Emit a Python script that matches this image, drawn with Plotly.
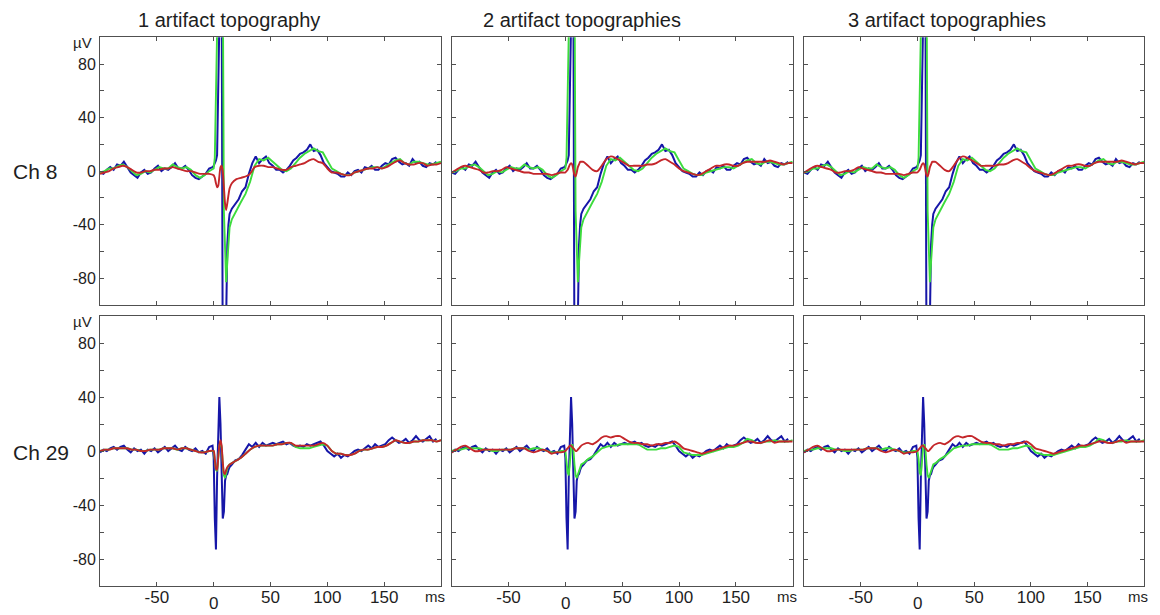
import numpy as np
import plotly.graph_objects as go

# ---------------- time grids (ms) ----------------
# raw (noisy) traces: 3 ms steps, 1 ms steps around the stimulus artifact
t_raw = np.r_[np.arange(-100, 0, 3), np.arange(0, 15, 1), np.arange(16, 201, 3)]
# smoother traces: 4 ms steps, 1 ms steps around the artifact
t_smooth = np.r_[np.arange(-100, 0, 4), np.arange(0, 15, 1), np.arange(16, 201, 4)]

# ---------------- data (µV) ----------------
# Channel 8
ch8_blue = ([-1, -2, 1, 3, 1, 5, 4, 7, 3, -1, -3, -5, -1, 1, -2, -1, 2, 4, 0, 2,
             1, 3, 6, 2, 2, 4, 1, -3, -5, -6, -4, -2, 2]
            + [3, 4, 6, 8, 12, 60, 160, 160, 150, -150, -160, -150, -110, -55, -40]
            + [-32, -28, -24, -21, -15, -12, -2, 6, 11, 6, 9, 11, 6, 4, 1, 1, -1, 1, 4, 8,
               10, 13, 14, 16, 20, 15, 16, 12, 6, 3, 0, -1, -2, -4, -4, -1, -3, 0, 1, -1,
               3, 2, 4, 1, 1, 4, 6, 5, 9, 10, 7, 5, 6, 4, 9, 6, 7, 4, 3, 6, 5, 7])
ch8_green = ([-1, 0, 2, 2, 4, 5, 3, 0, -3, -2, 0, -1, 1, 3, 2, 2, 5, 3, 2, 3, 1, -3, -5, -3, 0]
             + [2, 10, 130, 150, 150, 150, 150, 150, 150, -30, -55, -83, -68, -50, -42]
             + [-36, -29, -23, -17, -8, 4, 9, 8, 10, 7, 4, 1, 0, 2, 6, 10, 13, 15, 17, 15,
                14, 8, 2, 0, -2, -3, -3, -1, 0, 1, 2, 3, 3, 2, 4, 6, 8, 9, 6, 5,
                7, 7, 6, 5, 5, 6, 7])
ch8_red_1 = ([-2, -1, 0, 2, 3, 4, 3, 1, -1, -1, 0, 0, 1, 1, 2, 2, 3, 2, 1, 0, 0, -1, -2, -2, -2]
             + [-3, -5, -9, -12, -11, -4, 3, 4, 0, -12, -24, -29, -24, -18, -13]
             + [-9, -6, -5, -4, -2, 3, 4, 4, 3, 3, 2, 1, 1, 3, 4, 5, 6, 8, 9, 7,
                6, 2, -1, -1, -2, -3, -3, -1, 0, 1, 2, 2, 3, 2, 3, 5, 7, 8, 6, 5,
                5, 6, 6, 4, 5, 5, 6])
ch8_red_23 = ([-1, 1, 3, 4, 3, 2, 1, -1, -1, 0, 0, 1, 3, 2, 1, 0, -1, -1, -2, -2, -2, -2, -3, -2, -1]
              + [-1, 0, 1, 3, 5, 6, 5, 1, -3, -4, -1, 3, 5, 7, 7]
              + [7, 4, 1, 0, 4, 9, 11, 10, 8, 6, 4, 4, 4, 4, 5, 5, 6, 8, 9, 7,
                 5, 2, 0, -1, -2, -3, -2, 0, 2, 4, 4, 5, 5, 4, 4, 6, 7, 7, 7, 7,
                 7, 8, 7, 6, 5, 6, 6])

# Channel 29
ch29_blue = ([-1, 1, 0, 2, 3, 1, 3, 4, 1, -1, 2, 0, 1, -2, 1, 0, 2, -1, 1, 3,
              0, 2, 4, 1, 0, 3, 1, 0, 2, -1, 0, -2, 3]
             + [4, -5, -50, -73, -20, 20, 40, 20, -20, -50, -45, -22, -18, -17, -14]
             + [-12, -10, -7, -6, -3, 1, 5, 3, 6, 3, 6, 4, 5, 6, 5, 6, 7, 5, 6, 4,
                3, 4, 3, 5, 4, 5, 6, 7, 4, 0, -2, -4, -2, -5, -3, -4, -2, 0, 1, 0,
                2, 4, 2, 5, 3, 4, 5, 8, 10, 8, 6, 7, 9, 6, 8, 11, 8, 7, 9, 11, 7, 9])
ch29_green_1 = ([0, 1, 1, 2, 2, 2, 2, 1, 1, 0, 0, 1, 1, 1, 2, 2, 2, 1, 2, 2, 1, 0, -1, -1, 0]
                + [0, -6, -14, -15, -5, 4, 7, 3, -9, -18, -20, -16, -13, -11, -10]
                + [-9, -7, -5, -2, 1, 3, 4, 4, 4, 4, 5, 5, 6, 6, 3, 2, 2, 2, 3, 4,
                   5, 4, 0, -2, -2, -3, -3, -2, 0, 1, 1, 2, 3, 3, 4, 6, 8, 7, 6, 6,
                   7, 7, 8, 8, 8, 7, 8])
ch29_red_1 = ([0, 1, 1, 2, 2, 2, 2, 1, 1, 0, 0, 1, 1, 1, 2, 2, 2, 1, 2, 2, 1, 0, -1, -1, 0]
              + [0, -6, -13, -14, -5, 4, 8, 4, -8, -16, -17, -14, -12, -11, -10]
              + [-9, -7, -5, -2, 1, 3, 4, 4, 4, 4, 5, 5, 6, 6, 4, 4, 4, 4, 4, 5,
                 6, 4, 0, -2, -2, -3, -3, -2, 0, 1, 1, 2, 3, 3, 4, 6, 8, 7, 6, 6,
                 7, 7, 8, 8, 8, 7, 8])
ch29_green_23 = ([0, 1, 1, 2, 2, 2, 2, 1, 1, 0, 0, 1, 1, 1, 2, 2, 2, 1, 2, 2, 1, 0, -1, -1, 0]
                 + [0, -6, -16, -18, -8, 2, 5, 2, -10, -18, -20, -17, -14, -12, -10]
                 + [-9, -6, -4, -1, 2, 3, 4, 4, 5, 5, 5, 5, 5, 3, 1, 1, 1, 2, 2, 3,
                    4, 3, -1, -2, -3, -3, -3, -2, -1, 0, 1, 2, 3, 3, 4, 6, 9, 8, 6, 6,
                    7, 7, 8, 7, 7, 7, 8])
ch29_red_23 = ([-1, 1, 3, 4, 2, 0, 0, 1, 1, 1, 1, 1, 1, 1, 2, 2, 2, 0, -1, 0, 1, 0, -2, -1, -1]
               + [0, 1, 2, 3, 4, 4, 3, 2, 1, 0, 0, 1, 2, 3, 4]
               + [5, 6, 5, 7, 10, 11, 10, 11, 11, 9, 7, 6, 6, 5, 5, 4, 5, 5, 6, 6,
                  7, 5, 2, 1, 0, -1, -2, -1, 0, 1, 2, 3, 4, 4, 5, 6, 7, 7, 6, 6,
                  7, 8, 6, 7, 7, 7, 7])

col_titles = ["1 artifact topography", "2 artifact topographies", "3 artifact topographies"]
row_labels = ["Ch 8", "Ch 29"]
x_ticks = [-50, 0, 50, 100, 150]
x_ticktext = ["-50", "", "50", "100", "150"]
y_ticks = [-80, -60, -40, -20, 0, 20, 40, 60, 80]
y_ticktext = ["-80", "", "-40", "", "0", "", "40", "", "80"]

panels = [
    [(ch8_blue, ch8_green, ch8_red_1), (ch8_blue, ch8_green, ch8_red_23), (ch8_blue, ch8_green, ch8_red_23)],
    [(ch29_blue, ch29_green_1, ch29_red_1), (ch29_blue, ch29_green_23, ch29_red_23),
     (ch29_blue, ch29_green_23, ch29_red_23)],
]

# ---------------- styling ----------------
W, H = 1160, 615
BLUE, GREEN, RED = "#1616a8", "#3ddc3d", "#c4262a"
FRAME = "#505050"
FONT = "Arial, 'Liberation Sans', sans-serif"
TXT = "#1e1e1e"

col_px = [(100, 441), (451.7, 792.7), (804, 1144.3)]
row_px = [(37.3, 305), (316, 586)]

fig = go.Figure()
layout = dict(
    width=W, height=H, margin=dict(l=0, r=0, t=0, b=0),
    paper_bgcolor="white", plot_bgcolor="white", showlegend=False,
    font=dict(family=FONT, color=TXT),
)
annotations = []

for r in range(2):
    for c in range(3):
        k = r * 3 + c + 1
        xa = "x" if k == 1 else f"x{k}"
        ya = "y" if k == 1 else f"y{k}"
        blue, green, red = panels[r][c]
        fig.add_trace(go.Scatter(x=t_raw, y=blue, mode="lines", xaxis=xa, yaxis=ya,
                                 line=dict(color=BLUE, width=2), hoverinfo="skip"))
        fig.add_trace(go.Scatter(x=t_smooth, y=green, mode="lines", xaxis=xa, yaxis=ya,
                                 line=dict(color=GREEN, width=1.9), hoverinfo="skip"))
        fig.add_trace(go.Scatter(x=t_smooth, y=red, mode="lines", xaxis=xa, yaxis=ya,
                                 line=dict(color=RED, width=1.9, shape="spline", smoothing=0.6),
                                 hoverinfo="skip"))
        x0, x1 = col_px[c]
        y0, y1 = row_px[r]
        xkey = "xaxis" if k == 1 else f"xaxis{k}"
        ykey = "yaxis" if k == 1 else f"yaxis{k}"
        layout[xkey] = dict(
            domain=[x0 / W, x1 / W], range=[-100, 200], anchor=ya,
            showline=True, mirror="ticks", linecolor=FRAME, linewidth=1,
            ticks="inside", ticklen=4, tickcolor=FRAME, tickwidth=1,
            tickvals=x_ticks, ticktext=x_ticktext, ticklabelstandoff=-4,
            showticklabels=(r == 1), tickfont=dict(size=17, color=TXT),
            showgrid=False, zeroline=False, fixedrange=True,
        )
        layout[ykey] = dict(
            domain=[1 - y1 / H, 1 - y0 / H], range=[-100, 100], anchor=xa,
            showline=True, mirror="ticks", linecolor=FRAME, linewidth=1,
            ticks="inside", ticklen=4, tickcolor=FRAME, tickwidth=1,
            tickvals=y_ticks, ticktext=y_ticktext,
            showticklabels=(c == 0), tickfont=dict(size=16, color=TXT),
            showgrid=False, zeroline=False, fixedrange=True,
        )
        if r == 1:
            # "0" label sits a little lower than the other x labels
            annotations.append(dict(text="0", x=0, xref=xa, y=1 - 603 / H, yref="paper",
                                    showarrow=False, font=dict(size=17, color=TXT),
                                    xanchor="center", yanchor="middle"))
            annotations.append(dict(text="ms", x=(x1 - 6) / W, xref="paper", y=1 - 596 / H,
                                    yref="paper", showarrow=False, font=dict(size=15, color=TXT),
                                    xanchor="center", yanchor="middle"))
        if c == 0:
            annotations.append(dict(text="µV", x=94 / W, xref="paper", y=1 - (y0 + 5) / H,
                                    yref="paper", showarrow=False, font=dict(size=15, color=TXT),
                                    xanchor="right", yanchor="middle"))

title_px = [229, 582, 947]
for c in range(3):
    annotations.append(dict(text=col_titles[c], x=title_px[c] / W, xref="paper", y=1 - 20 / H,
                            yref="paper", showarrow=False, font=dict(size=20, color=TXT),
                            xanchor="center", yanchor="middle"))
for r, yc in enumerate([171, 452]):
    annotations.append(dict(text=row_labels[r], x=11 / W, xref="paper", y=1 - yc / H,
                            yref="paper", showarrow=False, font=dict(size=21, color=TXT),
                            xanchor="left", yanchor="middle"))

layout["annotations"] = annotations
fig.update_layout(**layout)
fig.write_html("out.html", config={"displayModeBar": False})
